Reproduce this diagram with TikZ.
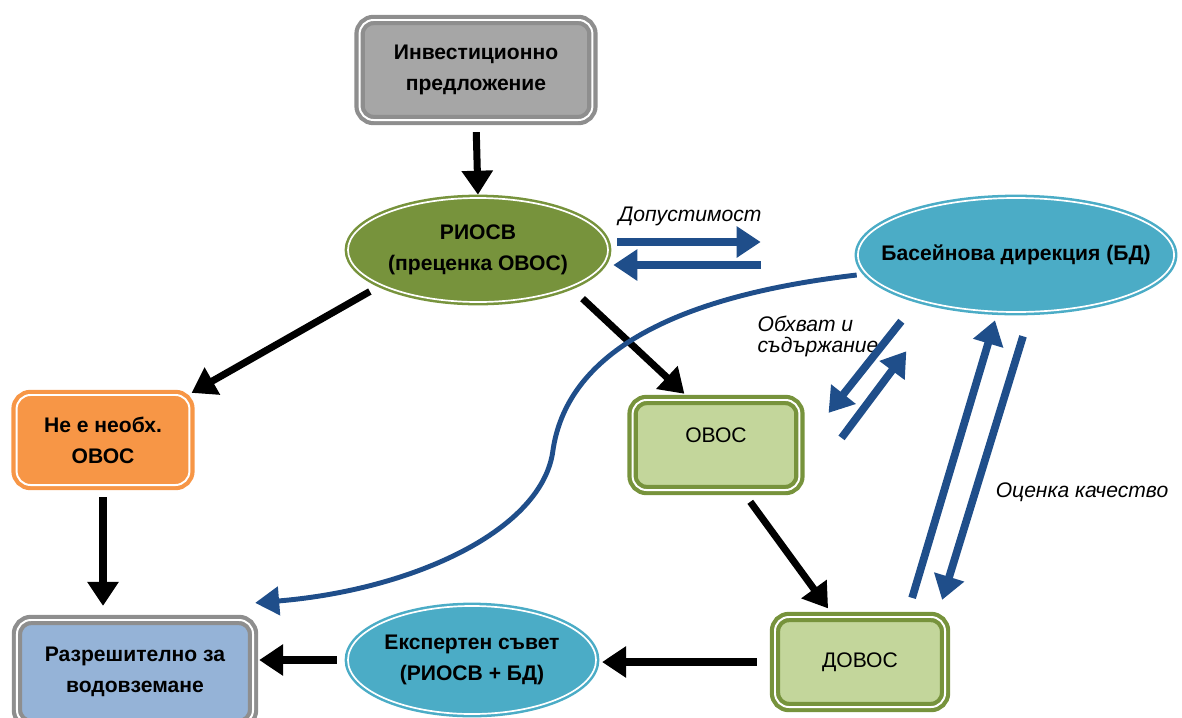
\documentclass[tikz,border=0pt]{standalone}
\usepackage{fontspec}
\setmainfont{Liberation Sans}
\usetikzlibrary{arrows.meta,shapes.geometric}
\definecolor{boxgray}{HTML}{A6A6A6}
\definecolor{edgegray}{HTML}{8E8E8E}
\definecolor{olive}{HTML}{77933C}
\definecolor{lightolive}{HTML}{C3D69B}
\definecolor{teal}{HTML}{4BACC6}
\definecolor{orange}{HTML}{F79646}
\definecolor{paleblue}{HTML}{95B3D7}
\definecolor{arrowblue}{HTML}{1F4E8A}

\begin{document}
\begin{tikzpicture}[x=0.025cm,y=-0.025cm,
every node/.style={font=\fontsize{15}{22}\selectfont},
bold/.style={font=\fontsize{15}{22}\selectfont\bfseries},
rbox/.style={double=white,double distance=1.4pt,line width=3pt,align=center,
rectangle,rounded corners=3.5mm},
oval/.style={double=white,double distance=1.2pt,line width=1.8pt,align=center,
ellipse,inner sep=0pt},
lbl/.style={font=\fontsize{15}{15}\selectfont\itshape},
blk/.style={-{Triangle[length=6mm,width=7.5mm]},line width=5pt,black},
blu/.style={-{Triangle[length=6mm,width=7.5mm]},line width=5.5pt,arrowblue},
crv/.style={-{Triangle[length=6mm,width=7mm]},line width=3.5pt,arrowblue}
]
\useasboundingbox (0,0) rectangle (1182,717);

\node[rbox,bold,fill=boxgray,draw=edgegray,minimum width=5.82cm,minimum height=2.5cm]
  (invest) at (476,70) {Инвестиционно\\предложение};
\node[oval,bold,fill=olive,draw=olive,minimum width=6.5cm,minimum height=2.6cm]
  (riosv) at (478,250) {РИОСВ\\(преценка ОВОС)};
\node[oval,bold,fill=teal,draw=teal,inner xsep=-0.9cm,minimum width=7.9cm,minimum height=2.85cm]
  (basin) at (1016,255) {Басейнова дирекция (БД)};
\node[rbox,bold,fill=orange,draw=orange,minimum width=4.32cm,minimum height=2.25cm]
  (nene) at (103,440) {Не е необх.\\ОВОС};
\node[rbox,fill=lightolive,draw=olive,minimum width=4.17cm,minimum height=2.25cm]
  (ovos) at (716,445) {\raisebox{0.5cm}{ОВОС}};
\node[rbox,fill=lightolive,draw=olive,minimum width=4.25cm,minimum height=2.25cm]
  (dovos) at (860,662) {ДОВОС};
\node[oval,bold,fill=teal,draw=teal,minimum width=6.2cm,minimum height=2.7cm]
  (expert) at (472,660) {Експертен съвет\\(РИОСВ + БД)};
\node[rbox,bold,fill=paleblue,draw=edgegray,minimum width=5.9cm,minimum height=2.6cm]
  (razr) at (135,672) {Разрешително за\\водовземане};

% labels
\node[lbl] (ldop) at (690,216) {Допустимост};
\node[lbl,align=left] (lobh) at (818,336) {Обхват и\\съдържание};
\node[lbl] (locen) at (1082,492) {Оценка качество};

% black flow
\draw[blk,shorten <=0.25cm,shorten >=0.05cm] (invest.south) -- (riosv.north);
\draw[blk,shorten <=0.3cm] (riosv.200) -- (nene.north east);
\draw[blk,shorten <=0.4cm,shorten >=0.15cm] (riosv.south east) -- (ovos.120);
\draw[blk,shorten <=0.25cm,shorten >=0.3cm] (nene.south) -- (nene.south |- razr.north);
\draw[blk,shorten <=0.3cm,shorten >=0.2cm] (ovos.-60) -- (dovos.120);
\draw[blk,shorten <=0.4cm,shorten >=0.12cm] (dovos.west) -- (dovos.west -| expert.east);
\draw[blk,shorten <=0.25cm,shorten >=0.1cm] (expert.west) -- (expert.west -| razr.east);

% blue exchanges
\draw[blu,shorten <=0.2cm,shorten >=2.4cm] ([yshift=0.2cm]riosv.east) -- ([yshift=0.2cm]riosv.east -| basin.west);
\draw[blu,shorten <=2.4cm,shorten >=0.1cm] ([yshift=-0.375cm]riosv.east -| basin.west) -- ([yshift=-0.375cm]riosv.east);
\draw[blu] ([xshift=-0.05cm,yshift=-0.625cm]basin.south west) -- ([xshift=0.675cm,yshift=-0.375cm]ovos.north east);
\draw[blu] ([xshift=1cm,yshift=-1cm]ovos.north east) -- ([xshift=0.075cm,yshift=-1.375cm]basin.south west);
\draw[blu] ([xshift=-0.875cm,yshift=0.425cm]dovos.north east) -- ([xshift=-0.525cm,yshift=-0.175cm]basin.south);
\draw[blu] ([xshift=0.175cm,yshift=-0.575cm]basin.south) -- ([xshift=-0.125cm,yshift=0.375cm]dovos.north east);
\coordinate (bend) at (553,450);
\draw[crv] ([yshift=-0.5cm]basin.west) .. controls +(-215,25) and +(12,-80) .. (bend)
  .. controls +(-10,80) and +(158,-13) .. ([yshift=0.375cm]razr.north east);
\end{tikzpicture}
\end{document}
